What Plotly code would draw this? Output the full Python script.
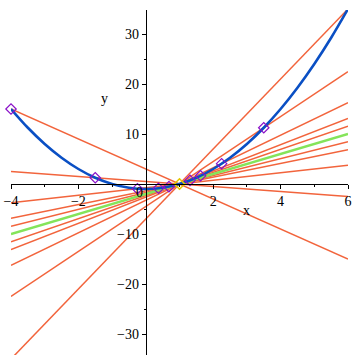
import plotly.graph_objects as go

# curve y = f(x)
curve_x = [-4, -3.5, -3, -2.5, -2, -1.5, -1, -0.5, 0, 0.5, 1, 1.5, 2, 2.5, 3, 3.5, 4, 4.5, 5, 5.5, 6]
curve_y = [15, 11.25, 8, 5.25, 3, 1.25, 0, -0.75, -1, -0.75, 0, 1.25, 3, 5.25, 8, 11.25, 15, 19.25, 24, 29.25, 35]

# fixed point and secant points
base_x = [1]
base_y = [0]
pts_x = [-4, -1.5, -0.25, 0.375, 0.6875, 6, 3.5, 2.25, 1.625, 1.3125]
pts_y = [15, 1.25, -0.9375, -0.859375, -0.52734375, 35, 11.25, 4.0625, 1.640625, 0.72265625]
tangent_slope = 2

x_range = [-4, 6]
x_ticks = [-4, -2, 2, 4, 6]
y_ticks = [-30, -20, -10, 10, 20, 30]

SERIF = "Liberation Serif, Times New Roman, serif"
fig = go.Figure()

x0, y0 = base_x[0], base_y[0]
for px, py in zip(pts_x, pts_y):
    m = (py - y0) / (px - x0)
    xs = x_range
    ys = [y0 + m * (xx - x0) for xx in xs]
    fig.add_trace(go.Scatter(x=xs, y=ys, mode="lines",
                             line=dict(color="#f2643c", width=1.5),
                             showlegend=False, hoverinfo="skip"))

fig.add_trace(go.Scatter(x=x_range, y=[y0 + tangent_slope * (xx - x0) for xx in x_range],
                         mode="lines", line=dict(color="#84e45a", width=2.5),
                         showlegend=False))

fig.add_trace(go.Scatter(x=curve_x, y=curve_y, mode="lines", line_shape="spline",
                         line=dict(color="#0a4fc4", width=2.6), showlegend=False))

fig.add_trace(go.Scatter(x=pts_x, y=pts_y, mode="markers", cliponaxis=False,
                         marker=dict(symbol="diamond-open", size=8, color="#8a10c8",
                                     line=dict(width=1.2)),
                         showlegend=False))
fig.add_trace(go.Scatter(x=base_x, y=base_y, mode="markers", cliponaxis=False,
                         marker=dict(symbol="diamond-open", size=8, color="#e6c800",
                                     line=dict(width=1.6)),
                         showlegend=False))

fig.update_layout(
    width=355, height=355,
    margin=dict(l=11, r=7, t=10, b=0),
    paper_bgcolor="white", plot_bgcolor="white",
    font=dict(family=SERIF, size=14, color="black"),
    xaxis=dict(range=x_range, anchor="free", position=0.4955, showgrid=False, zeroline=False,
               showline=True, linecolor="black", linewidth=1,
               ticks="outside", ticklen=4, tickcolor="black",
               tickvals=x_ticks, tickfont=dict(family=SERIF, size=14),
               ticklabeloverflow="allow",
               minor=dict(ticks="outside", ticklen=2, tickvals=[-3, -1, 1, 3, 5], tickcolor="black"),
               automargin=False),
    yaxis=dict(range=[-34.2, 34.8], anchor="free", position=0.4, showgrid=False, zeroline=False,
               showline=True, linecolor="black", linewidth=1,
               ticks="outside", ticklen=4, tickcolor="black",
               tickvals=y_ticks, tickfont=dict(family=SERIF, size=14),
               ticklabeloverflow="allow",
               minor=dict(ticks="outside", ticklen=2, tickvals=[-25, -15, -5, 5, 15, 25], tickcolor="black"),
               automargin=False),
    annotations=[
        dict(x=3.0, y=-5.2, text="x", showarrow=False, xref="x", yref="y",
             font=dict(family=SERIF, size=14)),
        dict(x=-1.22, y=17.2, text="y", showarrow=False, xref="x", yref="y",
             font=dict(family=SERIF, size=14)),
        dict(x=-0.2, y=-1.6, text="0", showarrow=False, xref="x", yref="y",
             font=dict(family=SERIF, size=14)),
    ],
)

fig.write_html("out.html", config={"displayModeBar": False},
               post_script="document.body.style.margin='0';document.body.style.overflow='hidden';")
